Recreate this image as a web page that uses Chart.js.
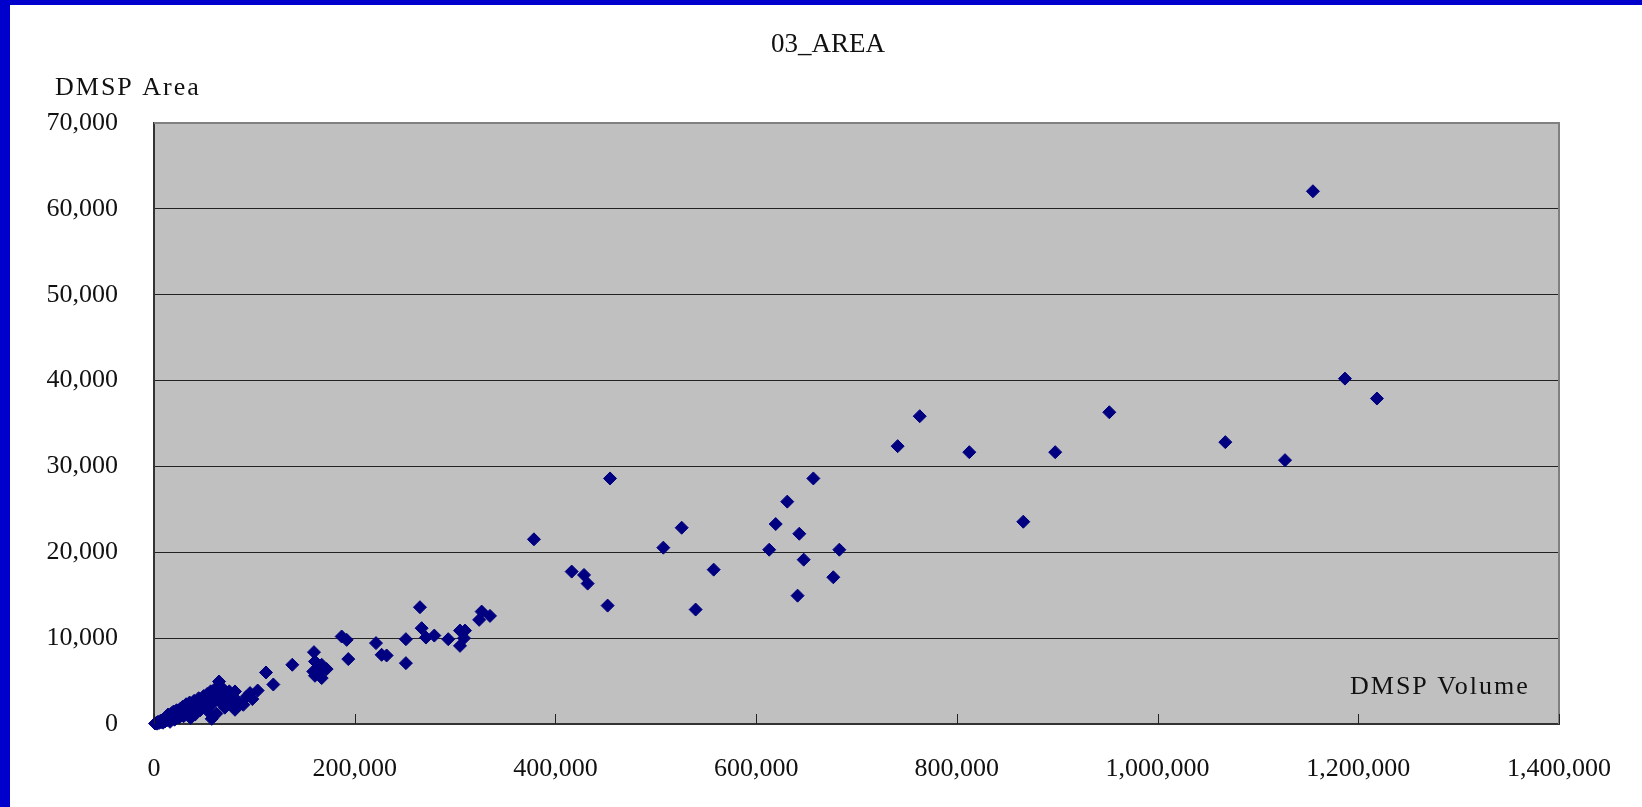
<!DOCTYPE html>
<html>
<head>
<meta charset="utf-8">
<script src="https://cdn.jsdelivr.net/npm/chart.js@4.4.1/dist/chart.umd.min.js"></script>
<style>
  html, body { margin: 0; padding: 0; background: #fff; }
  canvas { display: block; }
</style>
</head>
<body>
<canvas id="areaChart" width="1642" height="807"></canvas>
<script>
const chartTitle = '03_AREA';
const yAxisLabel = 'DMSP Area';
const xAxisLabel = 'DMSP Volume';

// DMSP Volume (x) and DMSP Area (y)
const dmspVolume = [
  1154800, 1186700, 1218600, 1067500, 1127000, 951900, 898000, 812400, 763000, 741000,
  866200, 657000, 631000, 619500, 643000, 613000, 682900, 647400, 676900, 641300,
  557700, 539700, 525800, 507500, 454400, 452000, 432100, 428500, 416200, 378600,
  334800, 326500, 324000, 309900, 304900, 308900, 304900, 293200, 279300, 271000,
  266700, 265000, 251000, 251000, 231800, 226800, 221200, 193600, 192000, 187000,
  172000, 167100, 167100, 165400, 160400, 160400, 159400, 158700, 137800, 118900,
  111600, 103300, 98000, 95700, 92400, 89000, 84000, 80700, 80700, 75000,
  1000, 2500, 3000, 4000, 5000, 6500, 7000, 8500, 9000, 10500,
  11000, 12500, 13000, 14000, 15500, 16000, 17500, 18000, 19500, 20500,
  21500, 22500, 24000, 25000, 26000, 27500, 28500, 29500, 31000, 32000,
  33000, 34500, 35500, 36500, 37500, 38500, 40000, 41000, 42000, 43500,
  44500, 46000, 47000, 48500, 49500, 51000, 52000, 53000, 54500, 55500,
  56500, 57500, 58500, 59500, 61000, 62000, 63000, 64800, 65500, 67000,
  68000, 69000, 70500, 72000, 73500, 77000, 79000
];
const dmspArea = [
  62050, 40230, 37910, 32830, 30730, 36310, 31660, 31660, 35850, 32360,
  23560, 28600, 25900, 23290, 22160, 20300, 20300, 19140, 17090, 14950,
  17980, 13330, 22860, 20540, 28600, 13790, 16350, 17360, 17750, 21510,
  12590, 13090, 12130, 10880, 10880, 10000, 9100, 9880, 10300, 10070,
  11160, 13600, 9880, 7090, 7980, 8060, 9420, 7560, 9800, 10190,
  6400, 6900, 5350, 6310, 7280, 5620, 8370, 6120, 6900, 4600,
  6000, 3900, 2900, 3600, 3200, 2240, 2600, 3790, 1660, 3800,
  60, 150, 40, 250, 120, 380, 200, 450, 150, 600,
  300, 850, 450, 1100, 650, 250, 1250, 800, 1450, 500,
  1000, 1600, 1250, 750, 1750, 1400, 2000, 900, 1650, 2300,
  1200, 1900, 2500, 700, 1500, 2200, 2700, 1100, 1900, 2450,
  3000, 1600, 2200, 2800, 3250, 1900, 2600, 3500, 1400, 3000,
  3800, 600, 2400, 3400, 4100, 1200, 2900, 4950, 3600, 4300,
  2300, 3900, 1900, 3300, 2700, 3100, 2200
];

const xTicks = [0, 200000, 400000, 600000, 800000, 1000000, 1200000, 1400000];
const yTicks = [0, 10000, 20000, 30000, 40000, 50000, 60000, 70000];

const FONT = '"Liberation Serif", "DejaVu Serif", serif';

const frame = {
  id: 'frame',
  beforeDraw(chart) {
    const { ctx, chartArea: { left, right, top, bottom } } = chart;
    ctx.save();
    ctx.fillStyle = '#0000CC';
    ctx.fillRect(0, 0, chart.width, 5);
    ctx.fillRect(0, 0, 10, chart.height);
    ctx.fillStyle = '#C0C0C0';
    ctx.fillRect(left, top, right - left, bottom - top);
    ctx.restore();
  },
  afterDatasetsDraw(chart) {
    const { ctx, chartArea: { left, right, top, bottom } } = chart;
    const xs = chart.scales.x;
    ctx.save();
    // top and right edge of the plot
    ctx.strokeStyle = '#808080';
    ctx.lineWidth = 2;
    ctx.beginPath();
    ctx.moveTo(left, top); ctx.lineTo(right, top); ctx.lineTo(right, bottom);
    ctx.stroke();
    // inside tick marks on the x axis
    ctx.strokeStyle = '#222';
    ctx.lineWidth = 1;
    xTicks.forEach(v => {
      const px = Math.round(xs.getPixelForValue(v)) + 0.5;
      ctx.beginPath(); ctx.moveTo(px, bottom); ctx.lineTo(px, bottom - 10); ctx.stroke();
    });
    // titles
    ctx.fillStyle = '#111';
    ctx.textBaseline = 'middle';
    ctx.font = '27px ' + FONT;
    ctx.textAlign = 'center';
    ctx.fillText(chartTitle, 828, 45);
    ctx.font = '26px ' + FONT;
    ctx.textAlign = 'left';
    ctx.letterSpacing = '2px';
    ctx.fillText(yAxisLabel, 55, 88);
    ctx.fillText(xAxisLabel, 1350, 687);
    ctx.restore();
  }
};

new Chart(document.getElementById('areaChart').getContext('2d'), {
  type: 'scatter',
  data: {
    datasets: [{
      data: dmspVolume.map((v, i) => ({ x: v, y: dmspArea[i] })),
      pointStyle: 'rectRot',
      pointRadius: 6.5,
      pointBackgroundColor: '#000080',
      pointBorderColor: '#000080',
      pointBorderWidth: 1,
      clip: false
    }]
  },
  options: {
    responsive: false,
    animation: false,
    events: [],
    layout: { padding: { left: 0, top: 123, right: 83, bottom: 0 } },
    plugins: { legend: { display: false }, tooltip: { enabled: false }, title: { display: false } },
    scales: {
      x: {
        type: 'linear',
        min: 0, max: 1400000,
        afterFit(scale) { scale.height = 83; },
        afterBuildTicks(scale) { scale.ticks = xTicks.map(v => ({ value: v })); },
        ticks: {
          color: '#111',
          font: { family: FONT, size: 26 },
          padding: 30,
          maxRotation: 0,
          callback: v => v.toLocaleString('en-US')
        },
        grid: { display: false, drawTicks: false },
        border: { color: '#333', width: 2 }
      },
      y: {
        min: 0, max: 70000,
        afterFit(scale) { scale.width = 154; },
        afterBuildTicks(scale) { scale.ticks = yTicks.map(v => ({ value: v })); },
        ticks: {
          color: '#111',
          font: { family: FONT, size: 26 },
          padding: 36,
          callback: v => v.toLocaleString('en-US')
        },
        grid: { color: '#222', lineWidth: 1, drawTicks: false },
        border: { color: '#333', width: 2 }
      }
    }
  },
  plugins: [frame]
});
</script>
</body>
</html>
